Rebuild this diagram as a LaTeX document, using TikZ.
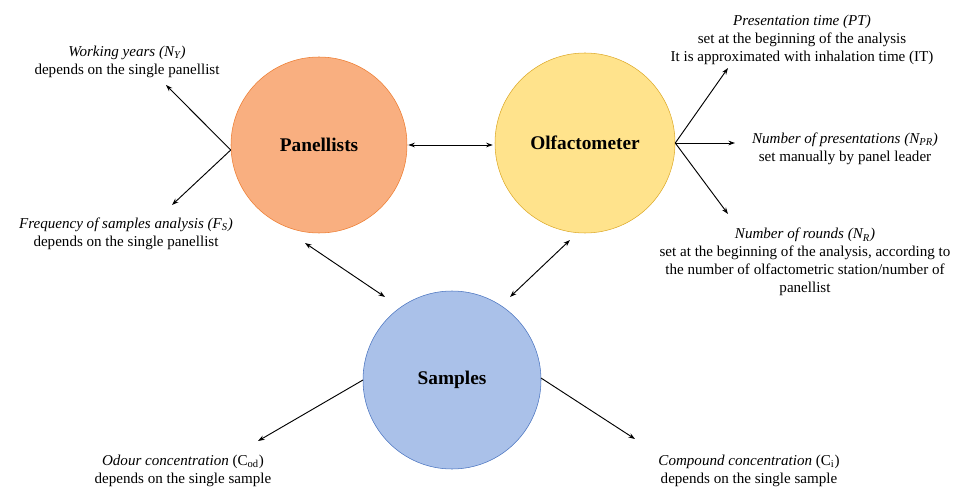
\documentclass[tikz,border=0pt]{standalone}
\usepackage{fontspec}
\setmainfont{Liberation Serif}
\usetikzlibrary{arrows.meta,calc}
\definecolor{panfill}{HTML}{F9AF80}
\definecolor{pandraw}{HTML}{ED7D31}
\definecolor{olffill}{HTML}{FFE38C}
\definecolor{olfdraw}{HTML}{DDAA2A}
\definecolor{smpfill}{HTML}{AAC1E9}
\definecolor{smpdraw}{HTML}{4A74C0}
\newlength{\unitpx}
\setlength{\unitpx}{0.75pt}
\tikzset{
  blob/.style={circle,minimum size=176\unitpx,inner sep=0pt,font=\fontsize{14.5}{16}\selectfont\bfseries},
  lnk/.style={{Stealth[length=5pt,width=3.5pt]}-{Stealth[length=5pt,width=3.5pt]},line width=0.7pt},
  feat/.style={-{Stealth[length=5pt,width=3.5pt]},line width=0.7pt},
  note/.style={align=center,font=\fontsize{11.3}{13.4}\selectfont,inner sep=0pt},
}
\begin{document}
\begin{tikzpicture}[x=0.75pt,y=-0.75pt]
  \useasboundingbox (0,0) rectangle (956,488);
  % the three circles
  \node[blob,fill=panfill,draw=pandraw] (pan) at (319,145) {Panellists};
  \node[blob,fill=olffill,draw=olfdraw,minimum size=180\unitpx] (olf) at (585,143) {Olfactometer};
  \node[blob,fill=smpfill,draw=smpdraw,minimum size=178\unitpx] (smp) at (452,380) {Samples};
  % links between them
  \coordinate (po) at ($(pan.east)+(1,0)$);
  \coordinate (op) at ($(olf.west)+(-2,2)$);
  \coordinate (ps) at ($(pan)+(-14,98)$);
  \coordinate (sp) at ($(smp)+(-67,-83)$);
  \coordinate (os) at ($(olf)+(-15,97)$);
  \coordinate (so) at ($(smp)+(58,-83)$);
  \draw[lnk] (po) -- (op);
  \draw[lnk] (ps) -- (sp);
  \draw[lnk] (os) -- (so);
  % panellists
  \node[note] (wy) at (127,62) {\textit{Working years (N\textsubscript{Y})}\\depends on the single panellist};
  \node[note] (fs) at (126,234) {\textit{Frequency of samples analysis (F\textsubscript{S})}\\depends on the single panellist};
  \coordinate (pw) at ($(pan.west)+(0,5)$);
  \coordinate (wya) at (166,85);
  \coordinate (fsa) at (172,205);
  \draw[feat] (pw) -- (wya);
  \draw[feat] (pw) -- (fsa);
  % olfactometer
  \node[note] (pt) at (802,40) {\textit{Presentation time (PT)}\\set at the beginning of the analysis\\It is approximated with inhalation time (IT)};
  \node[note] (npr) at (845,149) {\textit{Number of presentations (N\textsubscript{PR})}\\set manually by panel leader};
  \node[note] (nr) at (805,262) {\textit{Number of rounds (N\textsubscript{R})}\\set at the beginning of the analysis, according to\\the number of olfactometric station/number of\\panellist};
  \coordinate (oe) at (olf.east);
  \coordinate (pta) at (728,68);
  \coordinate (npra) at (735,143);
  \coordinate (nra) at (728,214);
  \draw[feat] (oe) -- (pta);
  \draw[feat] (oe) -- (npra);
  \draw[feat] (oe) -- (nra);
  % samples
  \node[note] (cod) at (183,471) {\textit{Odour concentration} (C\textsubscript{od})\\depends on the single sample};
  \node[note] (ci) at (749,471) {\textit{Compound concentration} (C\textsubscript{i})\\depends on the single sample};
  \coordinate (sw) at ($(smp)+(-89,0)$);
  \coordinate (se) at ($(smp)+(89,-2)$);
  \coordinate (coda) at (258,441);
  \coordinate (cia) at (635,439);
  \draw[feat] (sw) -- (coda);
  \draw[feat] (se) -- (cia);
\end{tikzpicture}
\end{document}
